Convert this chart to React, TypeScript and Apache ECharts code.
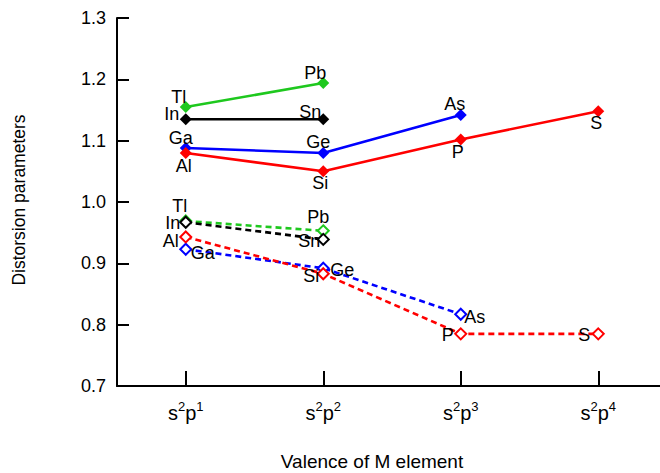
import React, { useEffect, useRef } from "react";
import * as echarts from "echarts";

const categories = ["s^2p^1", "s^2p^2", "s^2p^3", "s^2p^4"];
const yTicks = { min: 0.7, max: 1.3, interval: 0.1 };

// Solid (filled diamonds)
const greenSolid = [1.155, 1.194];
const greenSolidNames = ["Tl", "Pb"];
const blackSolid = [1.135, 1.135];
const blackSolidNames = ["In", "Sn"];
const blueSolid = [1.088, 1.08, 1.142];
const blueSolidNames = ["Ga", "Ge", "As"];
const redSolid = [1.08, 1.05, 1.102, 1.148];
const redSolidNames = ["Al", "Si", "P", "S"];

// Dashed (open diamonds)
const greenDashed = [0.969, 0.953];
const greenDashedNames = ["Tl", "Pb"];
const blackDashed = [0.967, 0.939];
const blackDashedNames = ["In", "Sn"];
const blueDashed = [0.923, 0.892, 0.817];
const blueDashedNames = ["Ga", "Ge", "As"];
const redDashed = [0.943, 0.883, 0.785, 0.785];
const redDashedNames = ["Al", "Si", "P", "S"];

// label offsets (style): [dx, dy] from marker centre
const offGreenSolid = [[-7, -10], [-8, -10]];
const offBlackSolid = [[-14, -5], [-13, -7]];
const offBlueSolid = [[-5, -10], [-5, -11], [-6, -11]];
const offRedSolid = [[-2, 13], [-3, 12], [-3, 13], [-2, 12]];
const offGreenDashed = [[-6, -15], [-5, -14]];
const offBlackDashed = [[-13, 1], [-14, 2]];
const offBlueDashed = [[17, 4], [19, 2], [14, 3]];
const offRedDashed = [[-15, 4], [-12, 2], [-13, 1], [-14, 1]];

const FONT = "Liberation Sans, Arial, Helvetica, sans-serif";

function makeSeries(
  values: number[],
  names: string[],
  offsets: number[][],
  color: string,
  dashed: boolean
) {
  return {
    type: "line",
    data: values.map((v, i) => ({
      value: v,
      label: {
        show: true,
        formatter: names[i],
        position: "inside",
        offset: offsets[i],
        color: "#000",
        fontSize: 18,
        fontFamily: FONT,
      },
    })),
    symbol: dashed ? "emptyDiamond" : "diamond",
    symbolSize: dashed ? 11 : 12,
    lineStyle: {
      color,
      width: 2.6,
      type: dashed ? [6, 4] : "solid",
    },
    itemStyle: { color, borderWidth: dashed ? 1.7 : 0 },
    z: dashed ? 2 : 3,
  };
}

function fmtCat(s: string) {
  return s.replace(/([a-z])\^(\d)/g, "{b|$1}{sup|$2}");
}

export default function App() {
  const ref = useRef<HTMLDivElement>(null);
  useEffect(() => {
    if (!ref.current) return;
    const chart = echarts.init(ref.current, undefined, { renderer: "svg" });
    chart.setOption({
      animation: false,
      backgroundColor: "#fff",
      grid: {
        left: 117,
        top: 18,
        width: 550,
        height: 368,
        containLabel: false,
        outerBoundsMode: "none",
      },
      xAxis: {
        type: "category",
        data: categories,
        boundaryGap: true,
        axisLine: { show: true, lineStyle: { color: "#000", width: 2 } },
        axisTick: {
          show: true,
          inside: true,
          alignWithLabel: true,
          length: 15,
          lineStyle: { color: "#000", width: 2 },
        },
        axisLabel: {
          interval: 0,
          margin: 14,
          formatter: (v: string) => fmtCat(v),
          rich: {
            b: { fontSize: 20, fontFamily: FONT, color: "#000" },
            sup: {
              fontSize: 13,
              fontFamily: FONT,
              color: "#000",
              padding: [0, 0, 12, 0],
            },
          },
        },
        splitLine: { show: false },
      },
      yAxis: {
        type: "value",
        min: yTicks.min,
        max: yTicks.max,
        interval: yTicks.interval,
        axisLine: { show: true, lineStyle: { color: "#000", width: 2 } },
        axisTick: {
          show: true,
          inside: true,
          length: 12,
          lineStyle: { color: "#000", width: 2 },
        },
        axisLabel: {
          margin: 11,
          color: "#000",
          fontSize: 18,
          fontFamily: FONT,
          formatter: (v: number) => v.toFixed(1),
        },
        splitLine: { show: false },
      },
      graphic: [
        {
          type: "text",
          x: 372,
          y: 461,
          style: {
            text: "Valence of M element",
            fontSize: 19,
            fontFamily: FONT,
            fill: "#000",
            align: "center",
            verticalAlign: "middle",
          },
        },
        {
          type: "text",
          x: 19,
          y: 200,
          rotation: Math.PI / 2,
          style: {
            text: "Distorsion parameters",
            fontSize: 17.5,
            fontFamily: FONT,
            fill: "#000",
            align: "center",
            verticalAlign: "middle",
          },
        },
      ],
      series: [
        makeSeries(greenDashed, greenDashedNames, offGreenDashed, "#1ec81e", true),
        makeSeries(blackDashed, blackDashedNames, offBlackDashed, "#000000", true),
        makeSeries(blueDashed, blueDashedNames, offBlueDashed, "#0000ff", true),
        makeSeries(redDashed, redDashedNames, offRedDashed, "#ff0000", true),
        makeSeries(greenSolid, greenSolidNames, offGreenSolid, "#1ec81e", false),
        makeSeries(blackSolid, blackSolidNames, offBlackSolid, "#000000", false),
        makeSeries(blueSolid, blueSolidNames, offBlueSolid, "#0000ff", false),
        makeSeries(redSolid, redSolidNames, offRedSolid, "#ff0000", false),
      ],
    });
    return () => chart.dispose();
  }, []);
  return (
    <div
      ref={ref}
      style={{ position: "absolute", left: 0, top: 0, width: 660, height: 473 }}
    />
  );
}
